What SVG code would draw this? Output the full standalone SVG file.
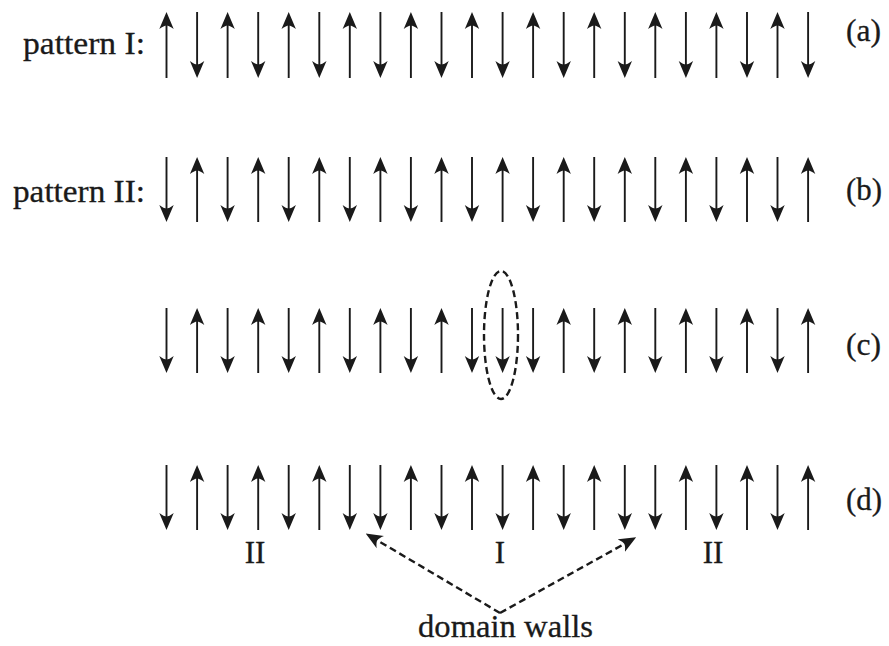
<svg xmlns="http://www.w3.org/2000/svg" width="889" height="646" viewBox="0 0 889 646">
<defs>
<style>
.s{stroke:#1a1a1a;stroke-width:1.9;marker-end:url(#h)}
.t{font-family:"Liberation Serif","Times New Roman",serif;font-size:31px;fill:#1a1a1a;stroke:#1a1a1a;stroke-width:0.3}
.d{stroke:#1a1a1a;stroke-width:2.4;stroke-dasharray:7 4;fill:none}
</style>
<marker id="h" viewBox="0 -8 17 16" refX="12" refY="0" markerWidth="17" markerHeight="16" markerUnits="userSpaceOnUse" orient="auto">
<path d="M17,0 L0,-7.2 Q3.5,-2.5 3.5,0 Q3.5,2.5 0,7.2 Z" fill="#1a1a1a"/>
</marker>
</defs>
<rect width="889" height="646" fill="#fff"/>
<g id="row-a">
<line class="s" x1="166.5" y1="78" x2="166.5" y2="17"/>
<line class="s" x1="197.1" y1="12" x2="197.1" y2="73"/>
<line class="s" x1="227.6" y1="78" x2="227.6" y2="17"/>
<line class="s" x1="258.2" y1="12" x2="258.2" y2="73"/>
<line class="s" x1="288.7" y1="78" x2="288.7" y2="17"/>
<line class="s" x1="319.3" y1="12" x2="319.3" y2="73"/>
<line class="s" x1="349.8" y1="78" x2="349.8" y2="17"/>
<line class="s" x1="380.4" y1="12" x2="380.4" y2="73"/>
<line class="s" x1="410.9" y1="78" x2="410.9" y2="17"/>
<line class="s" x1="441.5" y1="12" x2="441.5" y2="73"/>
<line class="s" x1="472" y1="78" x2="472" y2="17"/>
<line class="s" x1="502.6" y1="12" x2="502.6" y2="73"/>
<line class="s" x1="533.1" y1="78" x2="533.1" y2="17"/>
<line class="s" x1="563.7" y1="12" x2="563.7" y2="73"/>
<line class="s" x1="594.2" y1="78" x2="594.2" y2="17"/>
<line class="s" x1="624.8" y1="12" x2="624.8" y2="73"/>
<line class="s" x1="655.3" y1="78" x2="655.3" y2="17"/>
<line class="s" x1="685.9" y1="12" x2="685.9" y2="73"/>
<line class="s" x1="716.4" y1="78" x2="716.4" y2="17"/>
<line class="s" x1="747" y1="12" x2="747" y2="73"/>
<line class="s" x1="777.5" y1="78" x2="777.5" y2="17"/>
<line class="s" x1="808.1" y1="12" x2="808.1" y2="73"/>
</g>
<g id="row-b">
<line class="s" x1="166.5" y1="157" x2="166.5" y2="217"/>
<line class="s" x1="197.1" y1="222" x2="197.1" y2="162"/>
<line class="s" x1="227.6" y1="157" x2="227.6" y2="217"/>
<line class="s" x1="258.2" y1="222" x2="258.2" y2="162"/>
<line class="s" x1="288.7" y1="157" x2="288.7" y2="217"/>
<line class="s" x1="319.3" y1="222" x2="319.3" y2="162"/>
<line class="s" x1="349.8" y1="157" x2="349.8" y2="217"/>
<line class="s" x1="380.4" y1="222" x2="380.4" y2="162"/>
<line class="s" x1="410.9" y1="157" x2="410.9" y2="217"/>
<line class="s" x1="441.5" y1="222" x2="441.5" y2="162"/>
<line class="s" x1="472" y1="157" x2="472" y2="217"/>
<line class="s" x1="502.6" y1="222" x2="502.6" y2="162"/>
<line class="s" x1="533.1" y1="157" x2="533.1" y2="217"/>
<line class="s" x1="563.7" y1="222" x2="563.7" y2="162"/>
<line class="s" x1="594.2" y1="157" x2="594.2" y2="217"/>
<line class="s" x1="624.8" y1="222" x2="624.8" y2="162"/>
<line class="s" x1="655.3" y1="157" x2="655.3" y2="217"/>
<line class="s" x1="685.9" y1="222" x2="685.9" y2="162"/>
<line class="s" x1="716.4" y1="157" x2="716.4" y2="217"/>
<line class="s" x1="747" y1="222" x2="747" y2="162"/>
<line class="s" x1="777.5" y1="157" x2="777.5" y2="217"/>
<line class="s" x1="808.1" y1="222" x2="808.1" y2="162"/>
</g>
<g id="row-c">
<line class="s" x1="166.5" y1="308" x2="166.5" y2="368"/>
<line class="s" x1="197.1" y1="373" x2="197.1" y2="313"/>
<line class="s" x1="227.6" y1="308" x2="227.6" y2="368"/>
<line class="s" x1="258.2" y1="373" x2="258.2" y2="313"/>
<line class="s" x1="288.7" y1="308" x2="288.7" y2="368"/>
<line class="s" x1="319.3" y1="373" x2="319.3" y2="313"/>
<line class="s" x1="349.8" y1="308" x2="349.8" y2="368"/>
<line class="s" x1="380.4" y1="373" x2="380.4" y2="313"/>
<line class="s" x1="410.9" y1="308" x2="410.9" y2="368"/>
<line class="s" x1="441.5" y1="373" x2="441.5" y2="313"/>
<line class="s" x1="472" y1="308" x2="472" y2="368"/>
<line class="s" x1="502.6" y1="308" x2="502.6" y2="368"/>
<line class="s" x1="533.1" y1="308" x2="533.1" y2="368"/>
<line class="s" x1="563.7" y1="373" x2="563.7" y2="313"/>
<line class="s" x1="594.2" y1="308" x2="594.2" y2="368"/>
<line class="s" x1="624.8" y1="373" x2="624.8" y2="313"/>
<line class="s" x1="655.3" y1="308" x2="655.3" y2="368"/>
<line class="s" x1="685.9" y1="373" x2="685.9" y2="313"/>
<line class="s" x1="716.4" y1="308" x2="716.4" y2="368"/>
<line class="s" x1="747" y1="373" x2="747" y2="313"/>
<line class="s" x1="777.5" y1="308" x2="777.5" y2="368"/>
<line class="s" x1="808.1" y1="373" x2="808.1" y2="313"/>
</g>
<g id="row-d">
<line class="s" x1="166.5" y1="465" x2="166.5" y2="525"/>
<line class="s" x1="197.1" y1="530" x2="197.1" y2="470"/>
<line class="s" x1="227.6" y1="465" x2="227.6" y2="525"/>
<line class="s" x1="258.2" y1="530" x2="258.2" y2="470"/>
<line class="s" x1="288.7" y1="465" x2="288.7" y2="525"/>
<line class="s" x1="319.3" y1="530" x2="319.3" y2="470"/>
<line class="s" x1="349.8" y1="465" x2="349.8" y2="525"/>
<line class="s" x1="380.4" y1="465" x2="380.4" y2="525"/>
<line class="s" x1="410.9" y1="530" x2="410.9" y2="470"/>
<line class="s" x1="441.5" y1="465" x2="441.5" y2="525"/>
<line class="s" x1="472" y1="530" x2="472" y2="470"/>
<line class="s" x1="502.6" y1="465" x2="502.6" y2="525"/>
<line class="s" x1="533.1" y1="530" x2="533.1" y2="470"/>
<line class="s" x1="563.7" y1="465" x2="563.7" y2="525"/>
<line class="s" x1="594.2" y1="530" x2="594.2" y2="470"/>
<line class="s" x1="624.8" y1="465" x2="624.8" y2="525"/>
<line class="s" x1="655.3" y1="465" x2="655.3" y2="525"/>
<line class="s" x1="685.9" y1="530" x2="685.9" y2="470"/>
<line class="s" x1="716.4" y1="465" x2="716.4" y2="525"/>
<line class="s" x1="747" y1="530" x2="747" y2="470"/>
<line class="s" x1="777.5" y1="465" x2="777.5" y2="525"/>
<line class="s" x1="808.1" y1="530" x2="808.1" y2="470"/>
</g>
<g id="flip-marker">
<ellipse class="d" cx="501" cy="335" rx="17" ry="64" stroke-dasharray="5.5 3"/>
</g>
<g id="connectors">
<line class="d" x1="500" y1="613" x2="370" y2="536" marker-end="url(#h)"/>
<line class="d" x1="500" y1="613" x2="631.8" y2="539.8" marker-end="url(#h)"/>
</g>
<g id="labels">
<text class="t" x="23" y="54" textLength="122" lengthAdjust="spacingAndGlyphs">pattern I:</text>
<text class="t" x="13" y="202" textLength="132" lengthAdjust="spacingAndGlyphs">pattern II:</text>
<text class="t" x="846" y="41" textLength="35" lengthAdjust="spacingAndGlyphs">(a)</text>
<text class="t" x="846" y="200" textLength="36" lengthAdjust="spacingAndGlyphs">(b)</text>
<text class="t" x="846" y="355" textLength="35" lengthAdjust="spacingAndGlyphs">(c)</text>
<text class="t" x="846" y="510" textLength="36" lengthAdjust="spacingAndGlyphs">(d)</text>
<text class="t" x="255" y="563" text-anchor="middle">II</text>
<text class="t" x="500" y="563" text-anchor="middle">I</text>
<text class="t" x="713" y="563" text-anchor="middle">II</text>
<text class="t" x="418" y="637" textLength="175" lengthAdjust="spacingAndGlyphs">domain walls</text>
</g>
</svg>
